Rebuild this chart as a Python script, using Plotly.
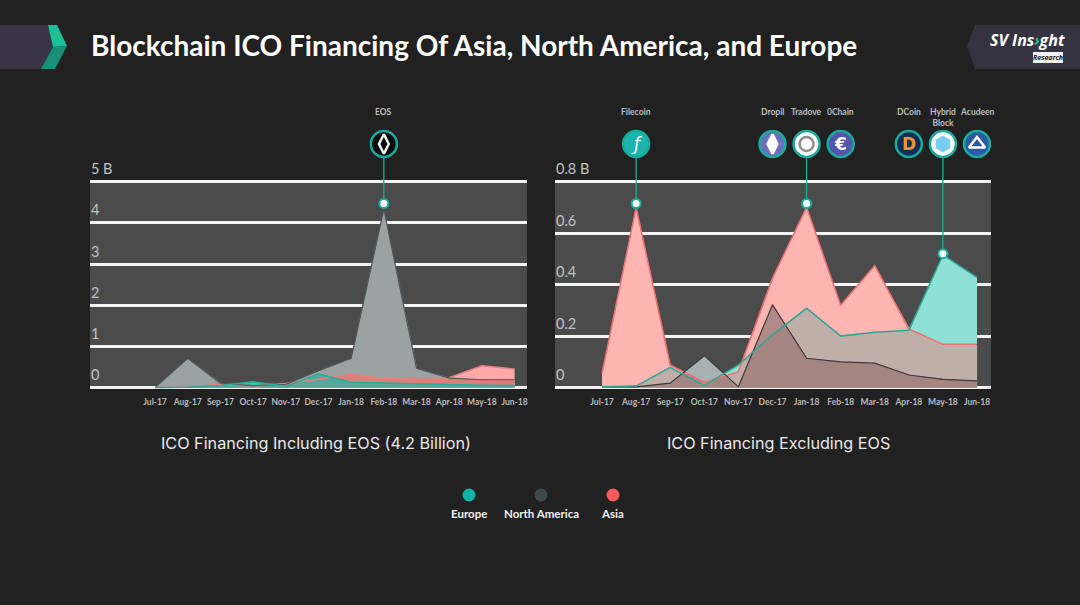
import numpy as np
import plotly.graph_objects as go

W, H = 1080, 605
months = ["Jul-17","Aug-17","Sep-17","Oct-17","Nov-17","Dec-17","Jan-18","Feb-18","Mar-18","Apr-18","May-18","Jun-18"]
idx = list(range(len(months)))

# Values in billions USD, including EOS
europe_incl = [0, 0.01, 0.05, 0.14, 0.03, 0.33, 0.13, 0.11, 0.10, 0.07, 0.06, 0.05]
na_incl     = [0, 0.71, 0.10, 0.05, 0.08, 0.41, 0.71, 4.33, 0.47, 0.23, 0.19, 0.19]
asia_incl   = [0, 0.01, 0.08, 0.04, 0.10, 0.20, 0.33, 0.22, 0.24, 0.24, 0.53, 0.45]

# Values in billions USD, excluding EOS
europe_excl = [0.003, 0.006, 0.079, 0.008, 0.088, 0.205, 0.308, 0.200, 0.215, 0.223, 0.515, 0.428]
na_excl     = [0.004, 0.003, 0.017, 0.124, 0.003, 0.322, 0.114, 0.100, 0.095, 0.049, 0.032, 0.026]
asia_excl   = [0.055, 0.700, 0.088, 0.020, 0.062, 0.425, 0.700, 0.320, 0.474, 0.228, 0.168, 0.168]

ticks_left = [0, 1, 2, 3, 4, 5]
ticktext_left = ["0", "1", "2", "3", "4", "5 B"]
ticks_right = [0, 0.2, 0.4, 0.6, 0.8]
ticktext_right = ["0", "0.2", "0.4", "0.6", "0.8 B"]

BG = "#212121"; PLOT = "#4b4b4b"; GRID = "#f4f4f4"; LABEL = "#c2c2c2"; TEAL = "#17ac9c"
FONT = "Lato"
ZERO_PX, TOP_PX, BOTTOM_PX = 387.6, 100, 392
SCALE = {"left": 41.2, "right": 257.5}

def xp(v): return v / W
def yp(v): return 1 - v / H
def val(side, py): return (ZERO_PX - py) / SCALE[side]

fig = go.Figure()
axes = {"left": dict(x="x", y="y"), "right": dict(x="x2", y="y2")}

def envelope(*series):
    fine = np.linspace(0, 11, 1101)
    low = np.min([np.interp(fine, idx, s) for s in series], axis=0)
    return fine, low

def draw_panel(side, e, n, a, pal):
    ax = axes[side]
    layers = [([e], pal["e"]), ([a], pal["a"]), ([n], pal["n"]),
              ([e, a], pal["ea"]), ([e, n], pal["en"]), ([a, n], pal["an"]), ([e, a, n], pal["ean"])]
    for group, color in layers:
        fx, fy = envelope(*group)
        fig.add_trace(go.Scatter(x=fx, y=fy, mode="lines", fill="tozeroy", fillcolor=color,
                                 line=dict(width=0, color=color), hoverinfo="skip", showlegend=False,
                                 xaxis=ax["x"], yaxis=ax["y"]))
    for name, vals, color, width in [("Asia", a, pal["la"], 1.5), ("North America", n, pal["ln"], 1.2),
                                     ("Europe", e, pal["le"], 1.5)]:
        fig.add_trace(go.Scatter(x=idx, y=vals, name=name, mode="lines", line=dict(color=color, width=width),
                                 showlegend=False, xaxis=ax["x"], yaxis=ax["y"]))

pal_left = dict(e="#35c9b8", a="#ffa9a9", n="#9ba2a2", ea="#df7d7a", en="#55a89c", an="#dc807c", ean="#58a79c",
                la="#e98080", ln="#50565a", le="#24ad9a")
pal_right = dict(e="#8fe0d5", a="#ffb5b1", n="#a9b1b5", ea="#c0aea8", en="#b0aea8", an="#b28a88", ean="#a58581",
                 la="#ee6f6f", ln="#3c3c3c", le="#2ba893")
draw_panel("left", europe_incl, na_incl, asia_incl, pal_left)
draw_panel("right", europe_excl, na_excl, asia_excl, pal_right)

def callout(side, cat, marker_y):
    ax = axes[side]
    fig.add_trace(go.Scatter(x=[cat, cat], y=[marker_y, val(side, 144)], mode="lines", line=dict(color=TEAL, width=1.3),
                             hoverinfo="skip", showlegend=False, xaxis=ax["x"], yaxis=ax["y"]))
    fig.add_trace(go.Scatter(x=[cat], y=[marker_y], mode="markers",
                             marker=dict(size=9, color="white", line=dict(color=TEAL, width=2)),
                             hoverinfo="skip", showlegend=False, xaxis=ax["x"], yaxis=ax["y"]))

callout("left", 7, 4.47)
callout("right", 1, 0.715)
callout("right", 6, 0.715)
callout("right", 10, 0.52)

icons = [
    ("left", 7, "EOS", "#0d0d0d", "#f4f4f4", "diamond-tall-open", "", "#ffffff"),
    ("right", 1, "Filecoin", "#1fb3ae", None, None, "<i>ƒ</i>", "#ffffff"),
    ("right", 5, "Dropil", "#6a70bd", "#ffffff", "diamond-tall", "", "#ffffff"),
    ("right", 6, "Tradove", "#ffffff", "#8d8d8d", "circle-open", "", "#ffffff"),
    ("right", 7, "0Chain", "#5156ac", None, None, "<b>€</b>", "#ffffff"),
    ("right", 9, "DCoin", "#142c58", None, None, "<b>D</b>", "#f09a24"),
    ("right", 10, "Hybrid<br>Block", "#ffffff", "#79cdf0", "hexagon", "", "#ffffff"),
    ("right", 11, "Acudeen", "#2c5ba3", "#ffffff", "triangle-up-open", "", "#ffffff"),
]
for side, cat, name, fill, gcolor, gsym, gtext, tcolor in icons:
    ax = axes[side]
    y = val(side, 144)
    fig.add_trace(go.Scatter(x=[cat], y=[y], mode="markers", hoverinfo="skip", showlegend=False,
                             marker=dict(size=26, color=fill, line=dict(color=TEAL, width=2.5)),
                             xaxis=ax["x"], yaxis=ax["y"]))
    if gsym:
        fig.add_trace(go.Scatter(x=[cat], y=[y], mode="markers", hoverinfo="skip", showlegend=False,
                                 marker=dict(size=14, symbol=gsym, color=gcolor, line=dict(color=gcolor, width=2.5)),
                                 xaxis=ax["x"], yaxis=ax["y"]))
    if gtext:
        fig.add_annotation(x=cat, y=y, xref=ax["x"], yref=ax["y"], text=gtext, showarrow=False,
                           font=dict(family="DejaVu Sans", size=17, color=tcolor))
    fig.add_annotation(x=cat, y=val(side, 112), xref=ax["x"], yref=ax["y"], text=name, showarrow=False, yanchor="middle",
                       yshift=-5 if "<br>" in name else 0, font=dict(family=FONT, size=8.5, color="#bdbdbd", weight="bold"))

shapes, notes = [], []

# Plot backgrounds, under the gridlines
for x0, x1 in [(90, 527), (555, 991)]:
    shapes.append(dict(type="rect", xref="paper", yref="paper", layer="below", x0=xp(x0), x1=xp(x1), y0=yp(388), y1=yp(181),
                       fillcolor=PLOT, line=dict(width=0)))

def y_labels(side, vals, labels):
    for v, t in zip(vals, labels):
        notes.append(dict(x=0, y=v, xref=axes[side]["x"] + " domain", yref=axes[side]["y"], text=t, showarrow=False,
                          xanchor="left", yanchor="middle", yshift=13, xshift=-1, font=dict(family=FONT, size=14.5, color=LABEL)))
y_labels("left", ticks_left, ticktext_left)
y_labels("right", ticks_right, ticktext_right)

def poly(points, color):
    path = "M " + " L ".join(f"{xp(px):.5f},{yp(py):.5f}" for px, py in points) + " Z"
    shapes.append(dict(type="path", path=path, xref="paper", yref="paper", fillcolor=color, line=dict(width=0)))
poly([(0, 25), (48, 25), (53, 47), (42, 69), (0, 69)], "#3a3544")
poly([(48, 25), (57, 25), (67, 46), (53, 47)], "#1cc096")
poly([(53, 47), (67, 46), (55, 69), (41, 69)], "#1a8f78")
poly([(967, 46), (975, 25), (1080, 25), (1080, 69), (975, 69)], "#35333f")
poly([(1033, 52), (1063, 52), (1063, 63), (1033, 63)], "#f2f2f2")

def text(px, py, t, size, color=None, anchor="center", family=FONT, weight="normal"):
    notes.append(dict(x=xp(px), y=yp(py), xref="paper", yref="paper", text=t, showarrow=False, xanchor=anchor,
                      yanchor="middle", font=dict(family=family, size=size, color=color or "white", weight=weight)))

text(1027, 40, '<i>SV Ins<span style="color:#1cc096">›</span>ght</i>', 16, weight="bold", family="Open Sans")
text(1048, 57.5, "<i>Research</i>", 7, color="#222222", weight="bold", family="Open Sans")
text(315.5, 443, "ICO Financing Including EOS (4.2 Billion)", 16.2, color="#e8e8e8", family="Inter")
text(778.5, 443, "ICO Financing Excluding EOS", 16.2, color="#e8e8e8", family="Inter")

for px, name, color in [(469, "Europe", "#0db3a3"), (541, "North America", "#3f4a4f"), (613, "Asia", "#f25c5c")]:
    shapes.append(dict(type="circle", xref="paper", yref="paper", x0=xp(px - 6.5), x1=xp(px + 6.5),
                       y0=yp(495 + 6.5), y1=yp(495 - 6.5), fillcolor=color, line=dict(width=0)))
    text(px, 513.5, name, 11.5, color="#f0f0f0", weight="bold")

common_y = dict(showgrid=True, gridcolor=GRID, gridwidth=2.5, zeroline=False, showticklabels=False, ticks="", showline=False)
common_x = dict(showgrid=False, zeroline=False, tickmode="array", tickvals=idx, ticktext=months, ticks="", showline=False,
                ticklabelstandoff=3, tickfont=dict(family=FONT, size=8.5, color="#b9b9b9", weight="bold"), tickangle=0)

fig.update_layout(
    width=W, height=H, margin=dict(l=0, r=0, t=0, b=0), autosize=False,
    paper_bgcolor=BG, plot_bgcolor="rgba(0,0,0,0)", showlegend=False, hovermode=False,
    title=dict(text="Blockchain ICO Financing Of Asia, North America, and Europe", x=xp(91), y=yp(46), xanchor="left",
               yanchor="middle", font=dict(family=FONT, size=28, color="white", weight="bold")),
    xaxis=dict(domain=[xp(90), xp(527)], range=[-1.99, 11.38], **common_x),
    xaxis2=dict(domain=[xp(555), xp(991)], range=[-1.38, 11.41], **common_x),
    yaxis=dict(domain=[yp(BOTTOM_PX), yp(TOP_PX)], range=[val("left", BOTTOM_PX), val("left", TOP_PX)],
               tickmode="array", tickvals=ticks_left, anchor="x", **common_y),
    yaxis2=dict(domain=[yp(BOTTOM_PX), yp(TOP_PX)], range=[val("right", BOTTOM_PX), val("right", TOP_PX)],
                tickmode="array", tickvals=ticks_right, anchor="x2", **common_y),
    shapes=shapes, annotations=list(fig.layout.annotations) + notes,
)

fig.write_html("out.html", config=dict(displayModeBar=False),
               post_script="document.body.style.margin='0';document.body.style.overflow='hidden';document.body.style.background='%s';" % BG)
